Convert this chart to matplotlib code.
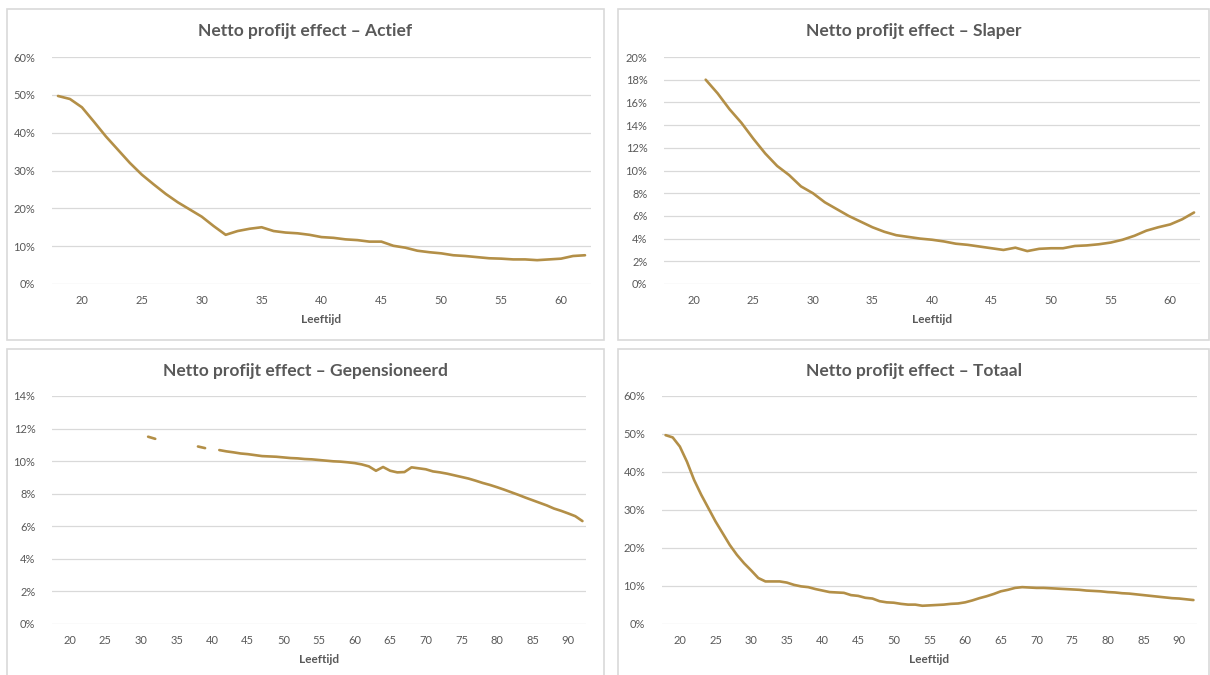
import numpy as np
import matplotlib
matplotlib.use("Agg")
import matplotlib.pyplot as plt
from matplotlib.patches import Rectangle
from matplotlib.ticker import FuncFormatter

plt.rcParams['font.family'] = ['Lato', 'DejaVu Sans']

# leeftijden
ages_young = np.arange(18, 63)   # 18 t/m 62
ages_all = np.arange(18, 93)     # 18 t/m 92
nan = np.nan

# Netto profijt effect - Actief (18 t/m 62)
actief = [49.7, 48.9, 46.7, 42.9, 39.0, 35.5, 32.0, 28.9, 26.3, 23.8,
          21.6, 19.7, 17.8, 15.3, 13.0, 14.0, 14.6, 15.0, 14.0, 13.6,
          13.4, 13.0, 12.4, 12.2, 11.8, 11.6, 11.2, 11.2, 10.1, 9.6,
          8.8, 8.4, 8.1, 7.6, 7.4, 7.1, 6.8, 6.7, 6.5, 6.5,
          6.3, 6.5, 6.7, 7.4, 7.6]

# Netto profijt effect - Slaper (18 t/m 62, pas vanaf 21 gevuld)
slaper = [nan, nan, nan, 18.0, 16.8, 15.4, 14.2, 12.8, 11.5, 10.4,
          9.6, 8.6, 8.0, 7.2, 6.6, 6.0, 5.5, 5.0, 4.6, 4.3,
          4.15, 4.0, 3.9, 3.75, 3.55, 3.45, 3.3, 3.15, 3.0, 3.2,
          2.9, 3.1, 3.15, 3.15, 3.35, 3.4, 3.5, 3.65, 3.9, 4.25,
          4.7, 5.0, 5.25, 5.7, 6.3]

# Netto profijt effect - Gepensioneerd (18 t/m 92, met gaten)
gepensioneerd = [nan] * 13 + [11.5, 11.37] + [nan] * 5 + [10.9, 10.8, nan] + [
    10.68, 10.6, 10.54, 10.47, 10.43, 10.37, 10.31, 10.29, 10.27, 10.23,
    10.19, 10.17, 10.13, 10.11, 10.07, 10.03, 9.99, 9.97, 9.93, 9.88,
    9.80, 9.68, 9.41, 9.64, 9.41, 9.31, 9.33, 9.62, 9.56, 9.5,
    9.37, 9.31, 9.23, 9.13, 9.03, 8.93, 8.80, 8.66, 8.54, 8.40,
    8.25, 8.09, 7.93, 7.76, 7.60, 7.44, 7.28, 7.09, 6.95, 6.79,
    6.62, 6.32]

# Netto profijt effect - Totaal (18 t/m 92)
totaal = [49.7, 49.1, 46.7, 42.7, 37.9, 34.0, 30.5, 27.0, 23.9, 20.8,
          18.2, 16.0, 14.1, 12.1, 11.2, 11.2, 11.2, 10.9, 10.3, 9.9,
          9.7, 9.2, 8.8, 8.4, 8.3, 8.2, 7.6, 7.4, 6.9, 6.7,
          6.0, 5.7, 5.6, 5.3, 5.1, 5.1, 4.8, 4.9, 5.0, 5.1,
          5.3, 5.4, 5.7, 6.2, 6.8, 7.3, 7.9, 8.6, 9.0, 9.5,
          9.7, 9.6, 9.5, 9.5, 9.4, 9.3, 9.2, 9.1, 9.0, 8.8,
          8.7, 8.6, 8.4, 8.3, 8.1, 8.0, 7.8, 7.6, 7.4, 7.2,
          7.0, 6.8, 6.7, 6.5, 6.3]

titles = ["Netto profijt effect \u2013 Actief", "Netto profijt effect \u2013 Slaper",
          "Netto profijt effect \u2013 Gepensioneerd", "Netto profijt effect \u2013 Totaal"]

W, H = 1210, 675
fig = plt.figure(figsize=(W / 100, H / 100), dpi=100)
fig.patch.set_facecolor('white')

LINE = '#B38F47'
GREY = '#595959'
GRID = '#D9D9D9'


def px_axes(x0, y0, x1, y1):
    # assen in pixelcoördinaten (y van boven)
    return fig.add_axes([x0 / W, 1 - y1 / H, (x1 - x0) / W, (y1 - y0) / H])


def frame(x0, y0, x1, y1):
    fig.patches.append(Rectangle((x0 / W, 1 - y1 / H), (x1 - x0) / W, (y1 - y0) / H,
                                 transform=fig.transFigure, fill=False,
                                 edgecolor=GRID, lw=1.2))


panels = [
    # frame, assen, leeftijden, waarden, ymax, stap, titel
    ((7, 9, 604, 340), (52, 57, 591, 284), ages_young, actief, 60, 10, titles[0]),
    ((618, 9, 1209, 340), (664, 57, 1200, 284), ages_young, slaper, 20, 2, titles[1]),
    ((7, 349, 604, 676), (52, 396, 586, 624), ages_all, gepensioneerd, 14, 2, titles[2]),
    ((618, 349, 1209, 676), (662, 396, 1197, 624), ages_all, totaal, 60, 10, titles[3]),
]

for fr, box, ages, vals, ymax, ystep, title in panels:
    frame(*fr)
    ax = px_axes(*box)
    ax.plot(ages, np.array(vals) / 100, color=LINE, lw=1.9, solid_capstyle='round')
    ax.set_xlim(ages[0] - 0.5, ages[-1] + 0.5)
    ax.set_ylim(0, ymax / 100)
    ax.set_yticks(np.arange(0, ymax + ystep / 2, ystep) / 100)
    ax.yaxis.set_major_formatter(FuncFormatter(lambda v, p: f"{v * 100:.0f}%"))
    ax.set_xticks(np.arange(20, ages[-1] + 1, 5))
    ax.grid(axis='y', color=GRID, lw=0.9)
    ax.set_axisbelow(True)
    for s in ax.spines.values():
        s.set_visible(False)
    ax.tick_params(length=0, colors=GREY, labelsize=8)
    ax.tick_params(axis='y', pad=12)
    ax.tick_params(axis='x', pad=8)
    ax.set_xlabel("Leeftijd", color=GREY, fontsize=8.5, fontweight='bold', labelpad=6)
    cx = (fr[0] + fr[2]) / 2
    fig.text(cx / W, 1 - (fr[1] + 22) / H, title, ha='center', va='center',
             fontsize=12.5, fontweight='bold', color=GREY)

fig.savefig('out.png', dpi=100, facecolor='white')
